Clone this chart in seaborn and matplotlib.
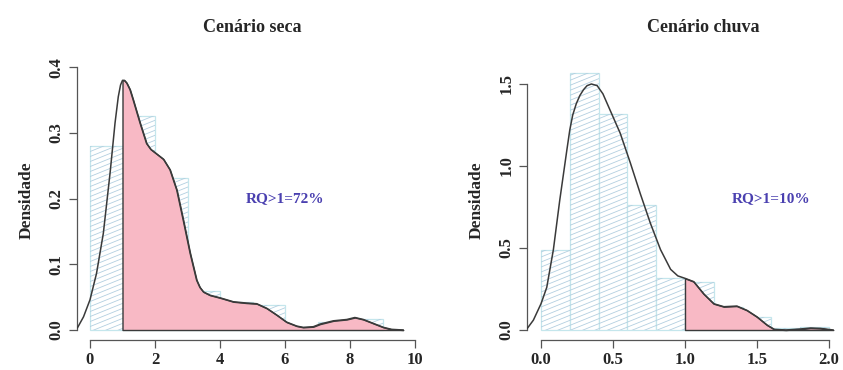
import numpy as np
import pandas as pd
import matplotlib
matplotlib.use("Agg")
import matplotlib.pyplot as plt
import seaborn as sns
from matplotlib.collections import LineCollection

# ---------------- data ----------------
titles = ["Cenário seca", "Cenário chuva"]
rq_labels = ["RQ>1=72%", "RQ>1=10%"]
y_label = "Densidade"

seca_edges = [0, 1, 2, 3, 4, 5, 6, 7, 8, 9]
seca_density = [0.280, 0.325, 0.232, 0.060, 0.042, 0.038, 0.004, 0.012, 0.017]
seca_kde_x = [-0.39, -0.20, 0.00, 0.20, 0.41, 0.62, 0.77, 0.87, 0.94, 1.00, 1.06, 1.13, 1.23, 1.33,
              1.54, 1.74, 1.87, 2.00, 2.26, 2.46, 2.67, 2.87, 3.08, 3.28, 3.38, 3.49, 3.69,
              4.00, 4.41, 4.82, 5.13, 5.44, 5.74, 6.05, 6.36, 6.56, 6.87, 7.08,
              7.49, 7.90, 8.15, 8.41, 8.72, 9.03, 9.28, 9.64]
seca_kde_y = [0.003, 0.020, 0.046, 0.086, 0.147, 0.240, 0.315, 0.355, 0.373, 0.380, 0.380, 0.376, 0.366, 0.350,
              0.315, 0.284, 0.275, 0.270, 0.260, 0.244, 0.213, 0.167, 0.117, 0.076, 0.065, 0.058, 0.053,
              0.049, 0.043, 0.041, 0.040, 0.033, 0.023, 0.012, 0.006, 0.004, 0.005, 0.009,
              0.014, 0.016, 0.019, 0.016, 0.010, 0.004, 0.001, 0.000]
seca_xticks = [0, 2, 4, 6, 8, 10]
seca_yticks = [0.0, 0.1, 0.2, 0.3, 0.4]
seca_text_pos = (6.0, 0.20)

chuva_edges = [0.0, 0.2, 0.4, 0.6, 0.8, 1.0, 1.2, 1.4, 1.6, 1.8, 2.0]
chuva_density = [0.49, 1.57, 1.32, 0.76, 0.32, 0.29, 0.14, 0.08, 0.01, 0.02]
chuva_kde_x = [-0.095, -0.053, 0.00, 0.04, 0.086, 0.13, 0.18, 0.20, 0.22, 0.245, 0.27, 0.295, 0.32, 0.35,
               0.39, 0.43, 0.48, 0.55, 0.62, 0.69, 0.76, 0.83, 0.90, 0.95, 1.00,
               1.06, 1.13, 1.20, 1.27, 1.36, 1.43, 1.50, 1.57, 1.62, 1.70, 1.80,
               1.87, 1.94, 2.03]
chuva_kde_y = [0.01, 0.06, 0.16, 0.26, 0.49, 0.79, 1.10, 1.22, 1.31, 1.38, 1.43, 1.465, 1.49, 1.50,
               1.49, 1.44, 1.34, 1.20, 1.02, 0.83, 0.65, 0.49, 0.37, 0.33, 0.315,
               0.295, 0.22, 0.16, 0.142, 0.146, 0.12, 0.08, 0.03, 0.004, 0.000, 0.006,
               0.012, 0.010, 0.000]
chuva_xticks = [0.0, 0.5, 1.0, 1.5, 2.0]
chuva_yticks = [0.0, 0.5, 1.0, 1.5]
chuva_text_pos = (1.6, 0.80)

threshold = 1.0

# ---------------- style ----------------
sns.set_style("white")
plt.rcParams["font.family"] = ["Liberation Serif", "DejaVu Serif"]
plt.rcParams["font.weight"] = "bold"

PINK = "#F8B9C5"
BAR_EDGE = "#C4E6EC"
HATCH = "#B3CFE0"
AXCOL = "#555555"
CURVE = "#3a3a3a"
TXTCOL = "#4A40B0"

W, H = 843, 370
fig = plt.figure(figsize=(W / 100, H / 100), dpi=100)


def add_hatch(ax, patch, angle_deg=22, spacing=5.0):
    """Slanted hatch lines (R style) clipped to a bar patch."""
    bbox = ax.get_position()
    wpx, hpx = bbox.width * W, bbox.height * H
    slope = np.tan(np.radians(angle_deg))
    segs = []
    c = -wpx * slope
    while c < hpx:
        segs.append([(0, c / hpx), (1, (c + wpx * slope) / hpx)])
        c += spacing
    lc = LineCollection(segs, transform=ax.transAxes, colors=HATCH, linewidths=0.6, zorder=1.5)
    ax.add_collection(lc, autolim=False)
    lc.set_clip_path(patch)


def panel(ax, edges, dens, kx, ky, xticks, yticks, xfmt, yfmt, xlim, ylim, text, tpos):
    edges = [float(e) for e in edges]
    centers = [(a + b) / 2 for a, b in zip(edges[:-1], edges[1:])]
    hist_df = pd.DataFrame({"x": centers, "w": [float(d) for d in dens]})
    sns.histplot(data=hist_df, x="x", weights="w", bins=edges, stat="count", ax=ax,
                 color="white", edgecolor=BAR_EDGE, linewidth=0.9, alpha=1, zorder=1)
    for p in list(ax.patches):
        add_hatch(ax, p)
    kx = np.asarray(kx, float)
    ky = np.asarray(ky, float)
    m = kx >= threshold
    ax.fill_between(kx[m], ky[m], 0, facecolor=PINK, edgecolor=CURVE, linewidth=1.0, zorder=2)
    kde_df = pd.DataFrame({"x": kx, "y": ky})
    sns.lineplot(data=kde_df, x="x", y="y", sort=False, color=CURVE, linewidth=1.1, ax=ax, zorder=3)

    ax.set_xlim(*xlim)
    ax.set_ylim(*ylim)
    ax.set_xticks(xticks)
    ax.set_xticklabels([xfmt.format(v) for v in xticks])
    ax.set_yticks(yticks)
    ax.set_yticklabels([yfmt.format(v) for v in yticks], rotation=90, va="center")
    ax.set_xlabel("")
    ax.set_ylabel(y_label, fontsize=12.5, fontweight="bold", labelpad=10)
    for s in ["top", "right"]:
        ax.spines[s].set_visible(False)
    for s in ["left", "bottom"]:
        ax.spines[s].set_color(AXCOL)
        ax.spines[s].set_linewidth(0.9)
    ax.spines["left"].set_bounds(yticks[0], yticks[-1])
    ax.spines["bottom"].set_bounds(xticks[0], xticks[-1])
    ax.tick_params(axis="both", length=6, width=0.9, color=AXCOL, labelsize=12,
                   left=True, bottom=True, pad=3)
    ax.text(tpos[0], tpos[1], text, color=TXTCOL, fontsize=11, fontweight="bold",
            ha="center", va="center")
    ax.patch.set_alpha(0)


ax1 = fig.add_axes([77 / W, 30 / H, (428 - 77) / W, 280 / H])
panel(ax1, seca_edges, seca_density, seca_kde_x, seca_kde_y, seca_xticks, seca_yticks,
      "{:d}", "{:.1f}", (-0.4, 10.4), (-10 / 657, 270 / 657), rq_labels[0], seca_text_pos)

ax2 = fig.add_axes([527 / W, 30 / H, (843 - 527) / W, 280 / H])
panel(ax2, chuva_edges, chuva_density, chuva_kde_x, chuva_kde_y, chuva_xticks, chuva_yticks,
      "{:.1f}", "{:.1f}", (-14 / 144, 302 / 144), (-10 / 164, 270 / 164), rq_labels[1], chuva_text_pos)

fig.text(252 / W, 1 - 27 / H, titles[0], ha="center", va="center", fontsize=13, fontweight="bold")
fig.text(703 / W, 1 - 27 / H, titles[1], ha="center", va="center", fontsize=13, fontweight="bold")

fig.savefig("out.png", dpi=100)
